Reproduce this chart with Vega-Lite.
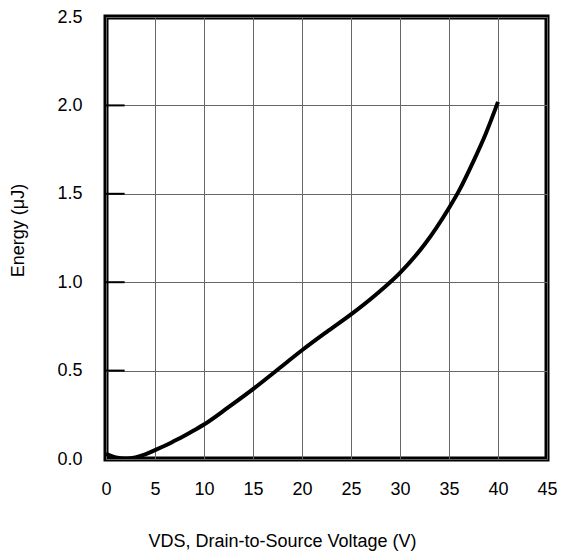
{
  "$schema": "https://vega.github.io/schema/vega-lite/v6.json",
  "width": 441,
  "height": 442,
  "autosize": {"type": "none"},
  "padding": {"left": 106, "top": 17, "right": 14, "bottom": 98},
  "background": "white",
  "config": {
    "view": {"stroke": "black", "strokeWidth": 5},
    "font": "Liberation Sans"
  },
  "datasets": {
    "curve": [
      {"vds": 0, "energy": 0.03},
      {"vds": 1, "energy": 0.009},
      {"vds": 2, "energy": 0.003},
      {"vds": 3, "energy": 0.009},
      {"vds": 4, "energy": 0.026},
      {"vds": 5, "energy": 0.05},
      {"vds": 6, "energy": 0.075},
      {"vds": 7, "energy": 0.103},
      {"vds": 8, "energy": 0.132},
      {"vds": 9, "energy": 0.163},
      {"vds": 10, "energy": 0.195},
      {"vds": 12.5, "energy": 0.293},
      {"vds": 15, "energy": 0.395},
      {"vds": 17.5, "energy": 0.505},
      {"vds": 20, "energy": 0.615},
      {"vds": 22.5, "energy": 0.718},
      {"vds": 25, "energy": 0.818},
      {"vds": 27.5, "energy": 0.928},
      {"vds": 30, "energy": 1.053},
      {"vds": 32.5, "energy": 1.213},
      {"vds": 35, "energy": 1.42},
      {"vds": 36, "energy": 1.515},
      {"vds": 37.5, "energy": 1.685},
      {"vds": 38.75, "energy": 1.84},
      {"vds": 40, "energy": 2.02}
    ],
    "ticks": [
      {"energy": 0.5},
      {"energy": 1.0},
      {"energy": 1.5},
      {"energy": 2.0}
    ]
  },
  "layer": [
    {
      "data": {"name": "curve"},
      "mark": {"type": "line", "color": "black", "strokeWidth": 4, "interpolate": "monotone", "clip": true},
      "encoding": {
        "x": {
          "field": "vds",
          "type": "quantitative",
          "scale": {"domain": [0, 45], "nice": false, "zero": false},
          "axis": {
            "values": [0, 5, 10, 15, 20, 25, 30, 35, 40, 45],
            "grid": true,
            "gridColor": "#666666",
            "gridWidth": 1,
            "gridOpacity": 1,
            "domain": false,
            "ticks": false,
            "labelPadding": 21,
            "labelFontSize": 18,
            "labelColor": "black",
            "labelFlush": false,
            "labelOverlap": false,
            "title": "VDS, Drain-to-Source Voltage (V)",
            "titleFontSize": 18,
            "titleFontWeight": "normal",
            "titleColor": "black",
            "titleAlign": "center",
            "titleBaseline": "alphabetic",
            "titleX": 176,
            "titleY": 87
          }
        },
        "y": {
          "field": "energy",
          "type": "quantitative",
          "scale": {"domain": [0, 2.5], "nice": false, "zero": false},
          "axis": {
            "values": [0, 0.5, 1.0, 1.5, 2.0, 2.5],
            "format": ".1f",
            "grid": true,
            "gridColor": "#666666",
            "gridWidth": 1,
            "gridOpacity": 1,
            "domain": false,
            "ticks": false,
            "labelPadding": 24,
            "labelFontSize": 18,
            "labelColor": "black",
            "labelFlush": false,
            "labelOverlap": false,
            "title": "Energy (μJ)",
            "titleFontSize": 18,
            "titleFontWeight": "normal",
            "titleColor": "black",
            "titleAlign": "center",
            "titleBaseline": "middle",
            "titleX": -88,
            "titleY": 213
          }
        }
      }
    },
    {
      "data": {"name": "ticks"},
      "mark": {"type": "rule", "color": "black", "strokeWidth": 2},
      "encoding": {
        "y": {"field": "energy", "type": "quantitative"},
        "x": {"datum": 0},
        "x2": {"datum": 1.9}
      }
    }
  ]
}
